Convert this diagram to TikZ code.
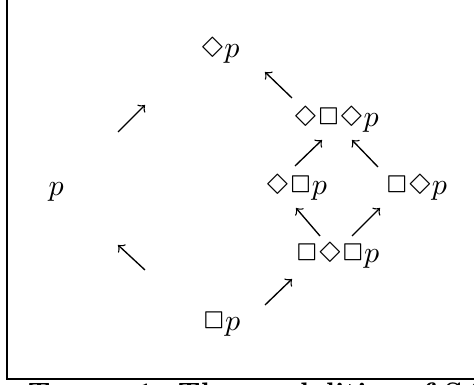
\documentclass[tikz,border=0pt]{standalone}
\usepackage{latexsym}
\begin{document}
\begin{tikzpicture}[x=0.33333pt,y=-0.33333pt,
  lab/.style={inner sep=0pt, anchor=base west},
  captext/.style={inner sep=0pt, anchor=base west, font=\fontsize{9.4}{11}\selectfont\bfseries},
  arr/.style={->, line width=0.45pt}]
\useasboundingbox (0,0) rectangle (474,385);
\draw[line width=0.7pt] (7,0) -- (7,379) -- (474,379);
% formulas
\node[lab] (p)    at (48,196)  {$p$};
\node[lab] (dp)   at (200,58)  {$\Diamond p$};
\node[lab] (dbdp) at (293,127) {$\Diamond\Box\Diamond p$};
\node[lab] (dbp)  at (265,195) {$\Diamond\Box p$};
\node[lab] (bdp)  at (385,195) {$\Box\Diamond p$};
\node[lab] (bdbp) at (295,263) {$\Box\Diamond\Box p$};
\node[lab] (bp)   at (202,331) {$\Box p$};
% arrow ends
\coordinate (a1s) at (118,132); \coordinate (a1e) at (145,105);
\coordinate (a2s) at (145,270); \coordinate (a2e) at (118,245);
\coordinate (a3s) at (292,98);  \coordinate (a3e) at (265,72);
\coordinate (a4s) at (295,166); \coordinate (a4e) at (322,140);
\coordinate (a5s) at (378,167); \coordinate (a5e) at (352,140);
\coordinate (a6s) at (320,236); \coordinate (a6e) at (296,208);
\coordinate (a7s) at (352,236); \coordinate (a7e) at (380,208);
\coordinate (a8s) at (265,305); \coordinate (a8e) at (292,279);
\foreach \i in {1,...,8} {\draw[arr] (a\i s) -- (a\i e);}
% caption (cut off at the lower edge, as in the reference)
\node[captext] (cap1) at (27,403) {T{\fontsize{7.5}{9}\selectfont ABLE} 1:};
\node[captext] (cap2) at (177,403) {The modalities of S4};
\end{tikzpicture}
\end{document}
